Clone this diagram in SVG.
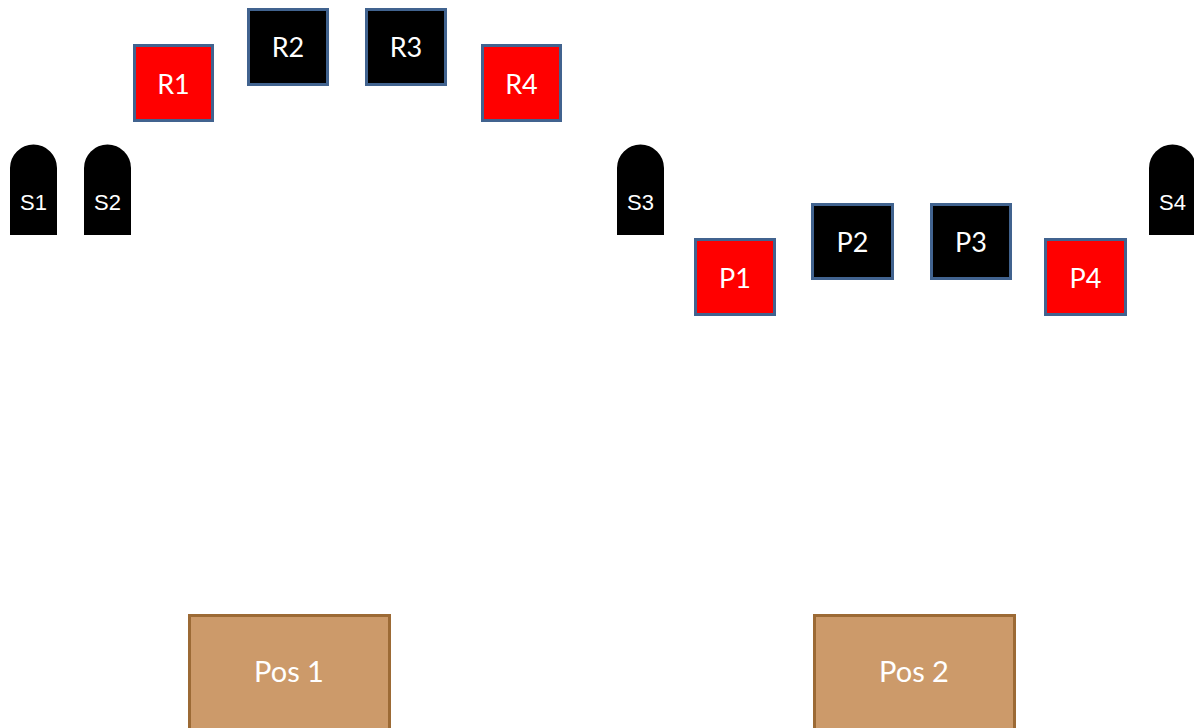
<svg xmlns="http://www.w3.org/2000/svg" width="1194" height="728" viewBox="0 0 1194 728">
<style>
.red{fill:#ff0000;stroke:#41638f;stroke-width:3}
.blk{fill:#000000;stroke:#41638f;stroke-width:3}
.pos{fill:#cc9a6a;stroke:#9c6a35;stroke-width:3}
.sen{fill:#000000}
.lbl{font-family:Lato,"Open Sans","Liberation Sans",sans-serif;font-size:27px;fill:#ffffff;text-anchor:middle;dominant-baseline:central}
.slbl{font-family:"Liberation Sans",Arial,sans-serif;font-size:22px;fill:#ffffff;text-anchor:middle;dominant-baseline:central}
.plbl{font-family:Lato,"Open Sans","Liberation Sans",sans-serif;font-size:29px;fill:#ffffff;text-anchor:middle;dominant-baseline:central}
</style>
<rect width="1194" height="728" fill="#ffffff"/>
<g id="connectors"></g>
<g id="R1"><rect class="red" x="134.5" y="45.5" width="78" height="75"/><text class="lbl" x="173.5" y="83">R1</text></g>
<g id="R2"><rect class="blk" x="248.5" y="9.5" width="79" height="75"/><text class="lbl" x="288" y="46">R2</text></g>
<g id="R3"><rect class="blk" x="366.5" y="9.5" width="79" height="75"/><text class="lbl" x="406" y="46">R3</text></g>
<g id="R4"><rect class="red" x="482.5" y="45.5" width="78" height="75"/><text class="lbl" x="521.5" y="83">R4</text></g>
<g id="P1"><rect class="red" x="695.5" y="239.5" width="79" height="75"/><text class="lbl" x="735" y="277">P1</text></g>
<g id="P2"><rect class="blk" x="812.5" y="204.5" width="80" height="74"/><text class="lbl" x="852.5" y="241">P2</text></g>
<g id="P3"><rect class="blk" x="931.5" y="204.5" width="79" height="74"/><text class="lbl" x="971" y="241">P3</text></g>
<g id="P4"><rect class="red" x="1045.5" y="239.5" width="80" height="75"/><text class="lbl" x="1085.5" y="277">P4</text></g>
<g id="S1"><path class="sen" d="M10,235 V168 A23.5,23.5 0 0 1 57,168 V235 Z"/><text class="slbl" x="33.5" y="202">S1</text></g>
<g id="S2"><path class="sen" d="M84,235 V168 A23.5,23.5 0 0 1 131,168 V235 Z"/><text class="slbl" x="107.5" y="202">S2</text></g>
<g id="S3"><path class="sen" d="M617,235 V168 A23.5,23.5 0 0 1 664,168 V235 Z"/><text class="slbl" x="640.5" y="202">S3</text></g>
<g id="S4"><path class="sen" d="M1149,235 V168 A23.5,23.5 0 0 1 1196,168 V235 Z"/><text class="slbl" x="1172.5" y="202">S4</text></g>
<g id="Pos1"><rect class="pos" x="189.5" y="615.5" width="200" height="115"/><text class="plbl" x="289" y="670">Pos 1</text></g>
<g id="Pos2"><rect class="pos" x="814.5" y="615.5" width="200" height="115"/><text class="plbl" x="914" y="670">Pos 2</text></g>
</svg>
